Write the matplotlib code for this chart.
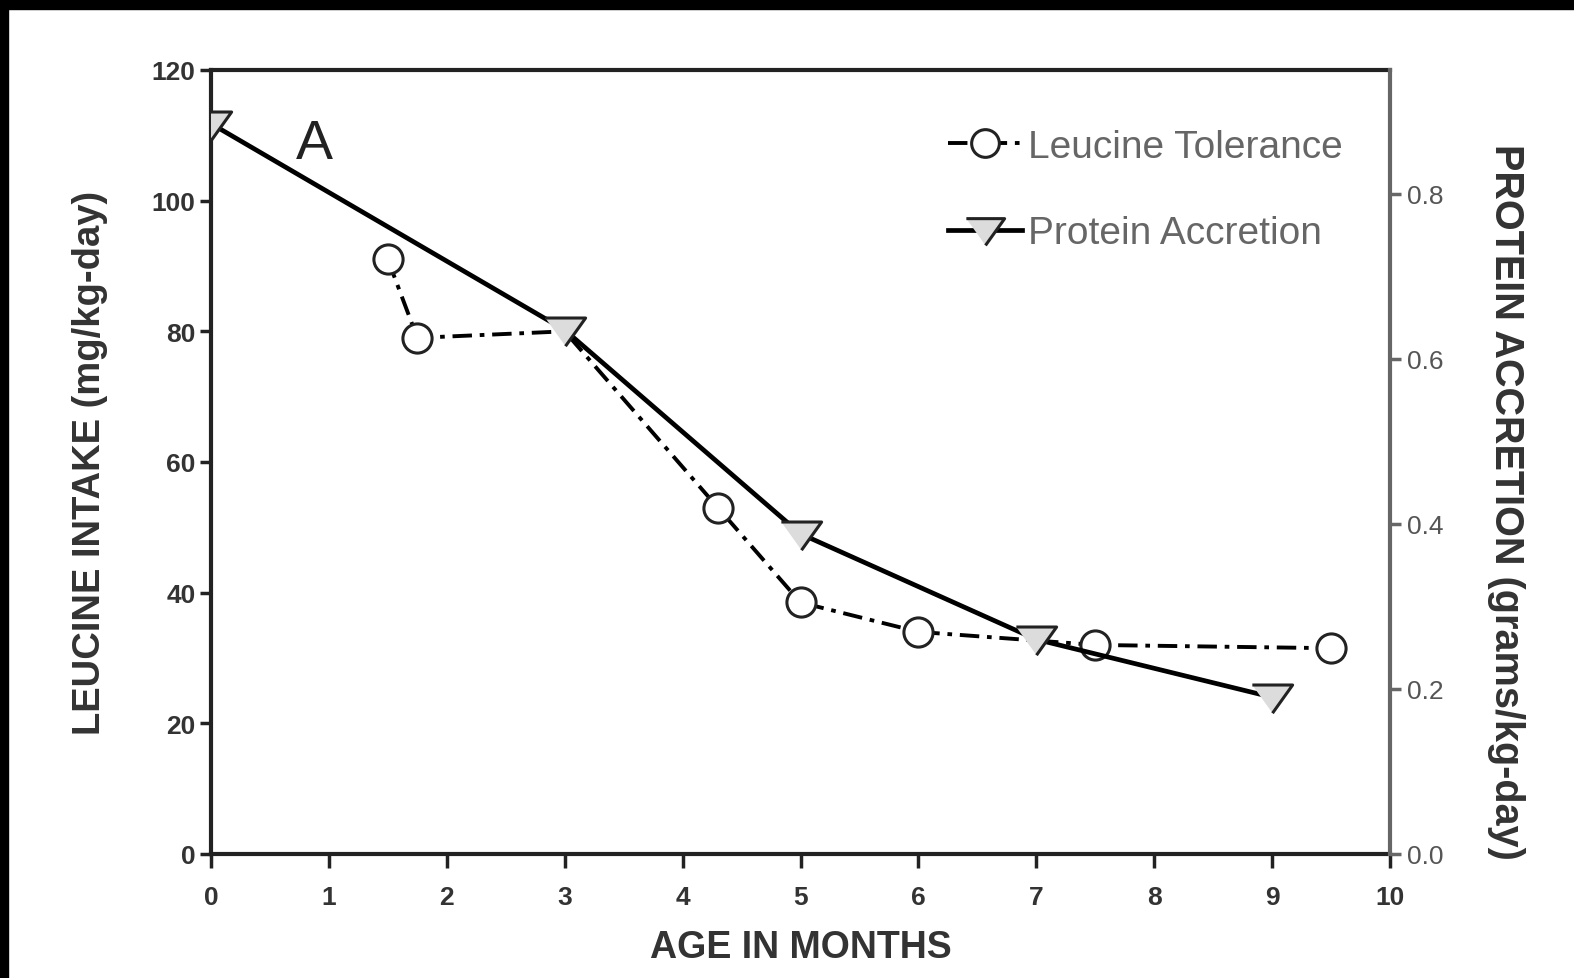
import matplotlib
matplotlib.use("Agg")
import matplotlib.pyplot as plt
from matplotlib.patches import Rectangle

# ---- data ----
leu_age = [1.5, 1.75, 3.0, 4.3, 5.0, 6.0, 7.5, 9.5]
leu_intake = [91, 79, 80, 53, 38.5, 34, 32, 31.5]     # mg/kg-day (left axis)
leu_marked = [0, 1, 3, 4, 5, 6, 7]                    # point at 3 mo hidden under triangle
prot_age = [0, 3, 5, 7, 9]
prot_accr = [0.885, 0.635, 0.388, 0.26, 0.19]         # grams/kg-day (right axis)
xticks = list(range(0, 11))
yticks_left = [0, 20, 40, 60, 80, 100, 120]
yticks_right = [0.0, 0.2, 0.4, 0.6, 0.8]

plt.rcParams["font.family"] = ["Liberation Sans", "DejaVu Sans"]

fig = plt.figure(figsize=(15.74, 9.79), dpi=100)
ax = fig.add_axes([211 / 1574, 1 - 855 / 979, 1179 / 1574, 784 / 979])
ax2 = ax.twinx()

tri = [(-1, 0.62), (1, 0.62), (0, -0.78)]

l1, = ax.plot(leu_age, leu_intake, color="black", lw=2.8, ls=(0, (5, 2, 1.2, 2)),
              marker="o", ms=21, mfc="white", mec="#222", mew=2.2,
              markevery=leu_marked, label="Leucine Tolerance")
l2, = ax2.plot(prot_age, prot_accr, color="black", lw=3.4,
               marker=tri, ms=29, mfc="#dcdcdc", mec="#222", mew=2.2,
               label="Protein Accretion")

ax.set_xlim(0, 10)
ax.set_ylim(0, 120)
ax2.set_ylim(0, 0.95)
ax.set_xticks(xticks)
ax.set_yticks(yticks_left)
ax2.set_yticks(yticks_right)
ax2.set_yticklabels([f"{v:.1f}" for v in yticks_right])

for s in ("left", "bottom", "top"):
    ax.spines[s].set_linewidth(3)
    ax.spines[s].set_color("#222")
ax2.spines["right"].set_linewidth(3)
ax2.spines["right"].set_color("#666")
ax2.spines["left"].set_visible(False)
ax2.spines["top"].set_visible(False)
ax2.spines["bottom"].set_visible(False)

ax.tick_params(axis="both", direction="out", length=8, width=2.5, color="#222",
               labelsize=19, labelcolor="#333", pad=3)
ax.tick_params(axis="x", length=10, pad=12)
for lab in ax.get_xticklabels() + ax.get_yticklabels():
    lab.set_fontweight("bold")
ax2.tick_params(axis="y", direction="out", length=8, width=2.5, color="#666",
                labelsize=19, labelcolor="#555", pad=4)

ax.text(-0.103, 0.50, "LEUCINE INTAKE (mg/kg-day)", transform=ax.transAxes,
        rotation=90, ha="center", va="center", fontsize=27.5, fontweight="bold", color="#333")
ax2.text(1.098, 0.45, "PROTEIN ACCRETION (grams/kg-day)", transform=ax.transAxes,
         rotation=270, ha="center", va="center", fontsize=28.5, fontweight="bold", color="#333")
ax.text(0.5, -0.118, "AGE IN MONTHS", transform=ax.transAxes,
        ha="center", va="center", fontsize=27, fontweight="bold", color="#333")
ax.text(0.088, 0.905, "A", transform=ax.transAxes, ha="center", va="center",
        fontsize=40, color="#222")

leg = ax2.legend(handles=[l1, l2], loc="upper left", bbox_to_anchor=(0.625, 0.925),
                 frameon=False, fontsize=28, handlelength=1.9, handletextpad=0.15,
                 labelspacing=1.3, borderpad=0, borderaxespad=0, numpoints=1,
                 markerscale=0.95)
for t in leg.get_texts():
    t.set_color("#666")

# black scan borders on top and left
fig.add_artist(Rectangle((0, 1 - 10 / 979), 1, 10 / 979, transform=fig.transFigure,
                         color="black", zorder=10))
fig.add_artist(Rectangle((0, 0), 8 / 1574, 1, transform=fig.transFigure,
                         color="black", zorder=10))

fig.savefig("out.png", dpi=100)
